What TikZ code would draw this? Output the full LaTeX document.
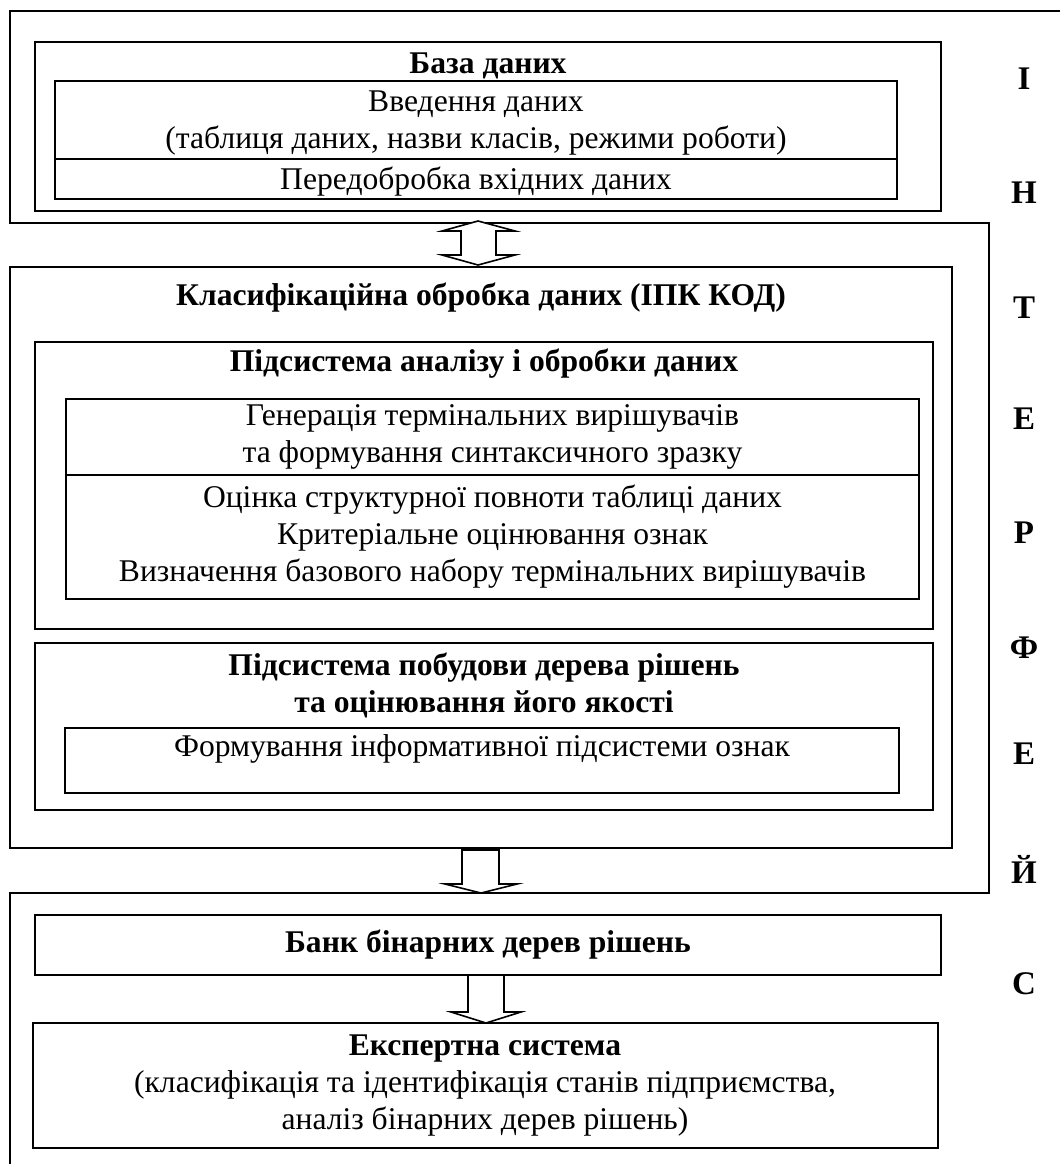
\documentclass[tikz,border=0pt]{standalone}
\usepackage{fontspec}
\setmainfont{Liberation Serif}
\usetikzlibrary{fit}
\begin{document}
\begin{tikzpicture}[x=0.5pt,y=-0.5pt,
  frame/.style={draw, line width=0.85pt, inner sep=0pt},
  iface/.style={draw, line width=0.75pt},
  txt/.style={align=center, inner sep=0pt, font=\fontsize{15.8}{18.5}\selectfont},
  btxt/.style={align=center, inner sep=0pt, font=\fontsize{15.8}{18.5}\selectfont\bfseries},
  ltr/.style={inner sep=0pt, font=\fontsize{16.5}{18.5}\selectfont\bfseries},
  barrow/.style={draw, line width=0.8pt, fill=white, line join=miter}
]
\useasboundingbox (0,0) rectangle (1060,1164);

% interface outline
\draw[iface] (1060,11) -- (10,11) -- (10,223) -- (989,223) -- (989,893) -- (10,893) -- (10,1164);

% interface letters
\foreach \l/\y [count=\i] in {І/79, Н/193, Т/308, Е/419, Р/533, Ф/648, Е/754, Й/869, С/984}
  \node[ltr] (L\i) at (1024,\y) {\l};

% --- database block
\node[frame, fit={(35,42) (941,211)}] (db) {};
\node[btxt] (dbT) at (488,66) {База даних};
\node[frame, fit={(55,81) (897,159)}] (in) {};
\node[txt] (inT) at ([yshift=-1.5pt]in.center) {Введення даних\\(таблиця даних, назви класів, режими роботи)};
\node[frame, fit={(55,159) (897,199)}] (pre) {};
\node[txt] (preT) at ([yshift=-1.5pt]pre.center) {Передобробка вхідних даних};

% --- classification block
\node[frame, fit={(10,267) (952,848)}] (cls) {};
\node[btxt] (clsT) at (481,298) {Класифікаційна обробка даних (ІПК КОД)};

\node[frame, fit={(35,342) (933,629)}] (an) {};
\node[btxt] (anT) at (484,364) {Підсистема аналізу і обробки даних};
\node[frame, fit={(66,399) (919,475)}] (gen) {};
\node[txt] (genT) at (gen.center) {Генерація термінальних вирішувачів\\та формування синтаксичного зразку};
\node[frame, fit={(66,475) (919,599)}] (ev) {};
\node[txt] (evT) at (ev.center) {Оцінка структурної повноти таблиці даних\\Критеріальне оцінювання ознак\\Визначення базового набору термінальних вирішувачів};

\node[frame, fit={(35,643) (933,810)}] (tr) {};
\node[btxt] (trT) at (484,685) {Підсистема побудови дерева рішень\\та оцінювання його якості};
\node[frame, fit={(65,728) (899,793)}] (inf) {};
\node[txt] (infT) at (482,749) {Формування інформативної підсистеми ознак};

% --- bank and expert system
\node[frame, fit={(35,915) (941,975)}] (bank) {};
\node[btxt] (bankT) at (bank.center) {Банк бінарних дерев рішень};
\node[frame, fit={(33,1023) (938,1148)}] (exp) {};
\node[txt] (expT) at (485,1086) {\textbf{Експертна система}\\(класифікація та ідентифікація станів підприємства,\\аналіз бінарних дерев рішень)};

% --- block arrows
\draw[barrow] (478,221) -- (515,231) -- (496,231) -- (496,255) -- (515,255) -- (478,265)
  -- (442,255) -- (461,255) -- (461,231) -- (442,231) -- cycle;
\draw[barrow] (462,850) -- (499,850) -- (499,884) -- (517,884) -- (481,893) -- (445,884) -- (462,884) -- cycle;
\draw[barrow] (468,975) -- (504,975) -- (504,1012) -- (521,1012) -- (486,1023) -- (451,1012) -- (468,1012) -- cycle;
\end{tikzpicture}
\end{document}
